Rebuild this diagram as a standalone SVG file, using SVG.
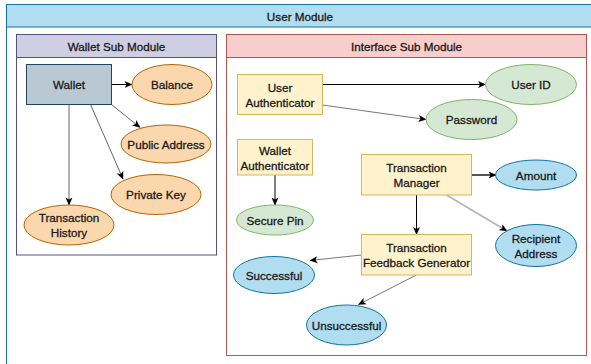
<svg xmlns="http://www.w3.org/2000/svg" width="591" height="364" viewBox="0 0 591 364">
<defs>
<style>
text{font-family:"Liberation Sans",Arial,sans-serif;font-size:11.7px;fill:#1a1a1a;stroke:#1a1a1a;stroke-width:0.3;text-anchor:middle;dominant-baseline:central}
.orange{fill:#fad7ac;stroke:#b46504;stroke-width:1}
.yellow{fill:#fff2cc;stroke:#d6b656;stroke-width:1}
.green{fill:#d5e8d4;stroke:#82b366;stroke-width:1}
.blue{fill:#b1ddf0;stroke:#10739e;stroke-width:1}
.edge{fill:none;marker-end:url(#arr)}
</style>
<marker id="arr" viewBox="0 0 8 8" refX="7.5" refY="4" markerWidth="8" markerHeight="8" markerUnits="userSpaceOnUse" orient="auto">
<path d="M0,0.5 L8,4 L0,7.5 L2,4 Z" fill="#000"/>
</marker>
</defs>

<g id="user-module">
<rect x="6.5" y="4.5" width="600" height="380" fill="#fff" stroke="#10739e"/>
<rect x="6.5" y="4.5" width="600" height="22.5" fill="#b1ddf0" stroke="#10739e"/>
<text x="300" y="16">User Module</text>
</g>

<g id="wallet-sub-module">
<rect x="16.5" y="34.5" width="200" height="220.5" fill="#fff" stroke="#56517e"/>
<rect x="16.5" y="34.5" width="200" height="23" fill="#d0cee2" stroke="#56517e"/>
<text x="116.5" y="46">Wallet Sub Module</text>
</g>

<g id="interface-sub-module">
<rect x="226.5" y="34.5" width="360" height="321" fill="#fff" stroke="#b85450"/>
<rect x="226.5" y="34.5" width="360" height="23" fill="#f8cecc" stroke="#b85450"/>
<text x="406.5" y="46">Interface Sub Module</text>
</g>

<g id="connectors">
<line class="edge" x1="111.5" y1="84.5" x2="132" y2="84.5" stroke="#000"/>
<line class="edge" x1="111.5" y1="104.5" x2="140" y2="127.5" stroke="#666"/>
<line class="edge" x1="90.5" y1="104.5" x2="123" y2="179" stroke="#666"/>
<line class="edge" x1="69" y1="104.5" x2="69" y2="205" stroke="#b3b3b3" stroke-width="2"/>
<line class="edge" x1="322.5" y1="84.5" x2="485.5" y2="84.5" stroke="#000"/>
<line class="edge" x1="322.5" y1="105" x2="426" y2="119.5" stroke="#777"/>
<line class="edge" x1="275" y1="175" x2="275" y2="205" stroke="#000"/>
<line class="edge" x1="471.5" y1="175" x2="496" y2="175" stroke="#555" stroke-width="2"/>
<line class="edge" x1="446.5" y1="195" x2="507" y2="231" stroke="#b3b3b3" stroke-width="1.5"/>
<line class="edge" x1="416.5" y1="195" x2="416.5" y2="234.5" stroke="#000"/>
<line class="edge" x1="361.5" y1="255" x2="310" y2="260.5" stroke="#777"/>
<line class="edge" x1="416.5" y1="275" x2="358.5" y2="304.5" stroke="#777"/>
</g>

<g id="wallet">
<rect x="26.5" y="64.5" width="85" height="40" fill="#bac8d3" stroke="#23445d"/>
<text x="69" y="84.5">Wallet</text>
</g>
<g id="balance">
<ellipse class="orange" cx="172" cy="84.5" rx="40" ry="20"/>
<text x="172" y="84.5">Balance</text>
</g>
<g id="public-address">
<ellipse class="orange" cx="166" cy="144" rx="45" ry="19"/>
<text x="166" y="144">Public Address</text>
</g>
<g id="private-key">
<ellipse class="orange" cx="156" cy="194.5" rx="45" ry="20"/>
<text x="156" y="194.5">Private Key</text>
</g>
<g id="transaction-history">
<ellipse class="orange" cx="69" cy="225" rx="45" ry="20"/>
<text x="69" y="217.5">Transaction</text>
<text x="69" y="232.5">History</text>
</g>

<g id="user-authenticator">
<rect class="yellow" x="237.5" y="74.5" width="85" height="40"/>
<text x="280" y="87">User</text>
<text x="280" y="102">Authenticator</text>
</g>
<g id="user-id">
<ellipse class="green" cx="531" cy="84.5" rx="45.5" ry="20"/>
<text x="531" y="84.5">User ID</text>
</g>
<g id="password">
<ellipse class="green" cx="471.5" cy="119.5" rx="45.5" ry="20"/>
<text x="471.5" y="119.5">Password</text>
</g>
<g id="wallet-authenticator">
<rect class="yellow" x="237.5" y="139.5" width="75" height="35.5"/>
<text x="275" y="150">Wallet</text>
<text x="275" y="165">Authenticator</text>
</g>
<g id="secure-pin">
<ellipse class="green" cx="275" cy="220" rx="38.5" ry="15"/>
<text x="275" y="220">Secure Pin</text>
</g>
<g id="transaction-manager">
<rect class="yellow" x="361.5" y="154.5" width="110" height="40.5"/>
<text x="416.5" y="167.5">Transaction</text>
<text x="416.5" y="182.5">Manager</text>
</g>
<g id="amount">
<ellipse class="blue" cx="536" cy="175" rx="40.5" ry="15"/>
<text x="536" y="175">Amount</text>
</g>
<g id="recipient-address">
<ellipse class="blue" cx="536" cy="245.5" rx="40.5" ry="21"/>
<text x="536" y="238">Recipient</text>
<text x="536" y="253">Address</text>
</g>
<g id="transaction-feedback-generator">
<rect class="yellow" x="361.5" y="234.5" width="110" height="40.5"/>
<text x="416.5" y="247.5">Transaction</text>
<text x="416.5" y="262.5">Feedback Generator</text>
</g>
<g id="successful">
<ellipse class="blue" cx="274" cy="275" rx="40.5" ry="18.5"/>
<text x="274" y="275">Successful</text>
</g>
<g id="unsuccessful">
<ellipse class="blue" cx="346.5" cy="325" rx="40" ry="20"/>
<text x="346.5" y="325">Unsuccessful</text>
</g>
</svg>
